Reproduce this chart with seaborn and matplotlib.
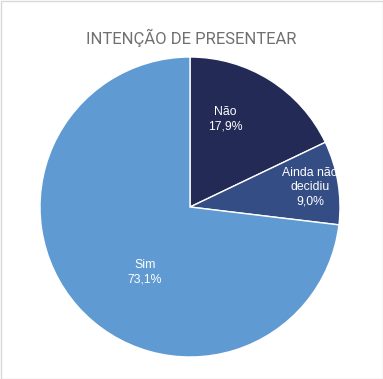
import numpy as np
import matplotlib
matplotlib.use("Agg")
import matplotlib.pyplot as plt
import seaborn as sns

categorias = ["Não", "Ainda não\ndecidiu", "Sim"]
percentuais = [17.9, 9.0, 73.1]
cores = ["#222a55", "#354d85", "#5f9bd2"]

sns.set_theme(style="white")
plt.rcParams['font.family'] = ['Liberation Sans', 'DejaVu Sans']

fig = plt.figure(figsize=(3.83, 3.79), dpi=100)
fig.patch.set_facecolor("white")

ax = fig.add_axes([40 / 383, 22 / 379, 300 / 383, 300 / 379])
wedges, _ = ax.pie(percentuais, colors=cores, startangle=90, counterclock=False,
                   radius=1, wedgeprops=dict(edgecolor="white", linewidth=1))
ax.set_xlim(-1, 1)
ax.set_ylim(-1, 1)
ax.set_aspect("equal")

# distance / angle shift for each label (Excel-like placement)
dist = [0.63, 0.81, 0.53]
shift = [10, 0, 14]
for w, nome, pct, d, s in zip(wedges, categorias, percentuais, dist, shift):
    ang = np.deg2rad((w.theta1 + w.theta2) / 2 + s)
    txt = f"{nome}\n{pct:.1f}%".replace(".", ",")
    ax.text(d * np.cos(ang), d * np.sin(ang), txt, ha="center", va="center",
            color="white", fontsize=8.8, linespacing=1.25)

fig.text(0.5, 1 - 38 / 379, "INTENÇÃO DE PRESENTEAR", ha="center", va="center",
         fontsize=12, color="#707070", family=["Roboto", "DejaVu Sans"])

fig.add_artist(plt.Rectangle((0.5 / 383, 0.5 / 379), 1 - 1 / 383, 1 - 1 / 379,
                             transform=fig.transFigure, fill=False,
                             edgecolor="#d9d9d9", linewidth=1))

fig.savefig("out.png", dpi=100)
